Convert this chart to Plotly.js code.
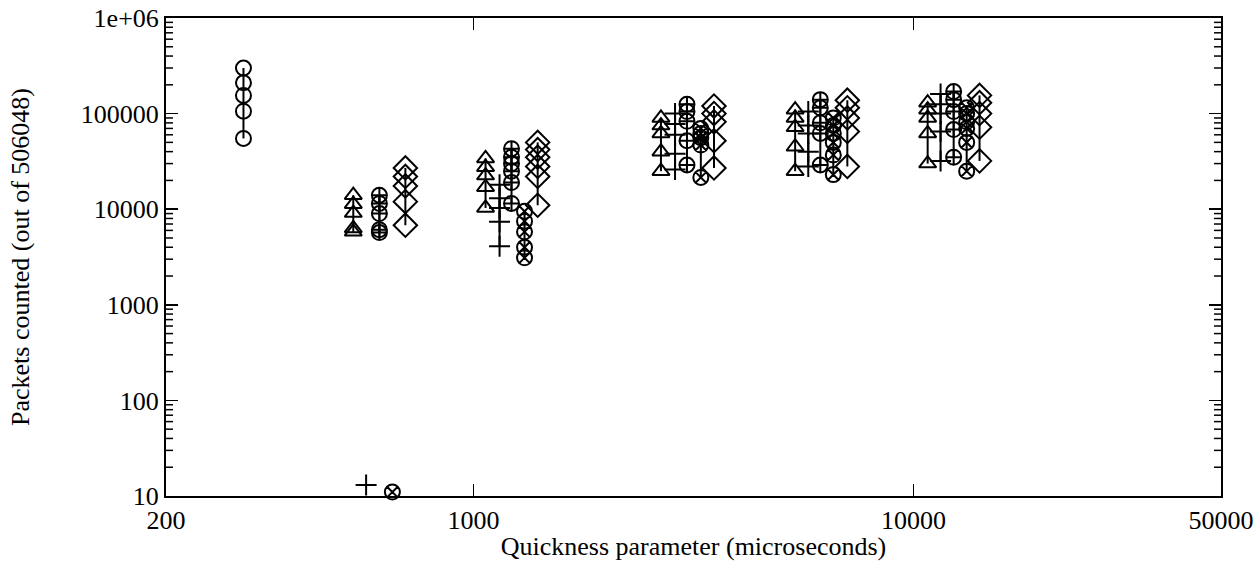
<!DOCTYPE html>
<html>
<head>
<meta charset="utf-8">
<script src="https://cdn.plot.ly/plotly-3.0.1.min.js"></script>
<style>html,body{margin:0;padding:0;background:#fff;}#chart{width:1259px;height:561px;}</style>
</head>
<body>
<div id="chart"></div>
<script>
// x positions (microseconds) of each group, and the values measured in that group
const ringX = [300];
const ringY = [
  [300000, 210000, 155000, 106000, 55000]
];
const triX = [533, 1065, 2667, 5383, 10770];
const triY = [
  [14000, 11300, 9100, 6300, 5800],
  [34000, 27500, 22500, 17000, 10300],
  [90000, 75000, 62000, 40000, 25000],
  [110000, 90000, 72000, 45000, 25000],
  [130000, 110000, 90000, 62000, 30000]
];
const plusX = [570, 1146, 2871, 5766, 11524];
const plusY = [
  [13],
  [18000, 13000, 10300, 7400, 4100],
  [100000, 78000, 60000, 38000, 26000],
  [105000, 75000, 62000, 40000, 28000],
  [160000, 125000, 100000, 65000, 32000]
];
const circX = [611, 1220, 3056, 6141, 12340];
const circY = [
  [14000, 11500, 9000, 6100, 5700],
  [43000, 35000, 30000, 25000, 19000, 11500],
  [125000, 105000, 83000, 52000, 29000],
  [140000, 115000, 80000, 62000, 29000],
  [170000, 140000, 105000, 68000, 35000]
];
const cxX = [654, 1306, 3286, 6573, 13210];
const cxY = [
  [11],
  [9500, 7500, 5800, 4000, 3100],
  [70000, 62000, 56000, 47000, 21500],
  [90000, 75000, 62000, 50000, 37000, 23000],
  [115000, 100000, 82000, 70000, 50000, 25000]
];
const diaX = [700, 1399, 3520, 7074, 14130];
const diaY = [
  [27000, 22000, 17500, 12000, 6800],
  [50000, 42000, 35000, 28000, 22000, 11000],
  [120000, 100000, 82000, 52000, 27000],
  [138000, 115000, 90000, 65000, 28000],
  [155000, 130000, 100000, 72000, 32000]
];
const xTicks = [200, 1000, 10000, 50000];
const xTickText = ['200', '1000', '10000', '50000'];
const yTicks = [10, 100, 1000, 10000, 100000, 1000000];
const yTickText = ['10', '100', '1000', '10000', '100000', '1e+06'];
const yLogMin = 1, yLogMax = 6;

// minor tick positions (2..9 per decade) for the y axis
const yMinor = [];
for (let d = 10; d < 1000000; d *= 10) {
  for (let k = 2; k <= 9; k++) yMinor.push(d * k);
}

function build(xs, ys, symbol, size) {
  const x = [], y = [];
  xs.forEach((gx, i) => {
    ys[i].forEach(v => { x.push(gx); y.push(v); });
    x.push(null); y.push(null);
  });
  return {
    x: x, y: y, type: 'scatter', mode: 'lines+markers', cliponaxis: false,
    connectgaps: false, showlegend: false,
    line: {color: '#000', width: 2},
    marker: {symbol: symbol, size: size, color: '#000', line: {color: '#000', width: 2}}
  };
}

const data = [
  build(ringX, ringY, 'circle-open', 15),
  build(triX, triY, 'triangle-up-open', 15),
  build(plusX, plusY, 'cross-thin-open', 15),
  build(circX, circY, 'circle-cross-open', 15),
  build(cxX, cxY, 'circle-x-open', 15),
  build(diaX, diaY, 'diamond-open', 18)
];

// minor tick marks on left and right frame edges
const plotW = 1259 - 166 - 38;
const minorLen = 7 / plotW;
const shapes = [];
yMinor.forEach(v => {
  const f = (Math.log10(v) - yLogMin) / (yLogMax - yLogMin);
  [[0, minorLen], [1 - minorLen, 1]].forEach(([a, b]) => {
    shapes.push({type: 'line', layer: 'above', xref: 'x domain', yref: 'y domain',
      x0: a, x1: b, y0: f, y1: f, line: {color: '#000', width: 1.5}});
  });
});

const tickFont = {family: '"Liberation Serif", "Times New Roman", serif', size: 26, color: '#000'};
const titleFont = {family: '"Liberation Serif", "Times New Roman", serif', size: 26, color: '#000'};
const layout = {
  width: 1259, height: 561,
  margin: {l: 166, r: 38, t: 18, b: 65},
  paper_bgcolor: '#fff', plot_bgcolor: '#fff',
  font: tickFont,
  showlegend: false,
  shapes: shapes,
  xaxis: {
    type: 'log', range: [Math.log10(200), Math.log10(50000)],
    tickvals: xTicks, ticktext: xTickText,
    ticks: 'inside', ticklen: 12, tickwidth: 1.5, tickcolor: '#000',
    showline: true, linecolor: '#000', linewidth: 2, mirror: 'allticks',
    showgrid: false, zeroline: false,
    tickfont: tickFont,
    title: {text: 'Quickness parameter (microseconds)', font: titleFont, standoff: 0}
  },
  yaxis: {
    type: 'log', range: [yLogMin, yLogMax],
    tickvals: yTicks, ticktext: yTickText,
    ticks: 'inside', ticklen: 12, tickwidth: 1.5, tickcolor: '#000',
    showline: true, linecolor: '#000', linewidth: 2, mirror: 'allticks',
    showgrid: false, zeroline: false,
    tickfont: tickFont,
    title: {text: 'Packets counted (out of 506048)', font: titleFont, standoff: 44}
  }
};

Plotly.newPlot('chart', data, layout, {displayModeBar: false, staticPlot: true});
</script>
</body>
</html>
